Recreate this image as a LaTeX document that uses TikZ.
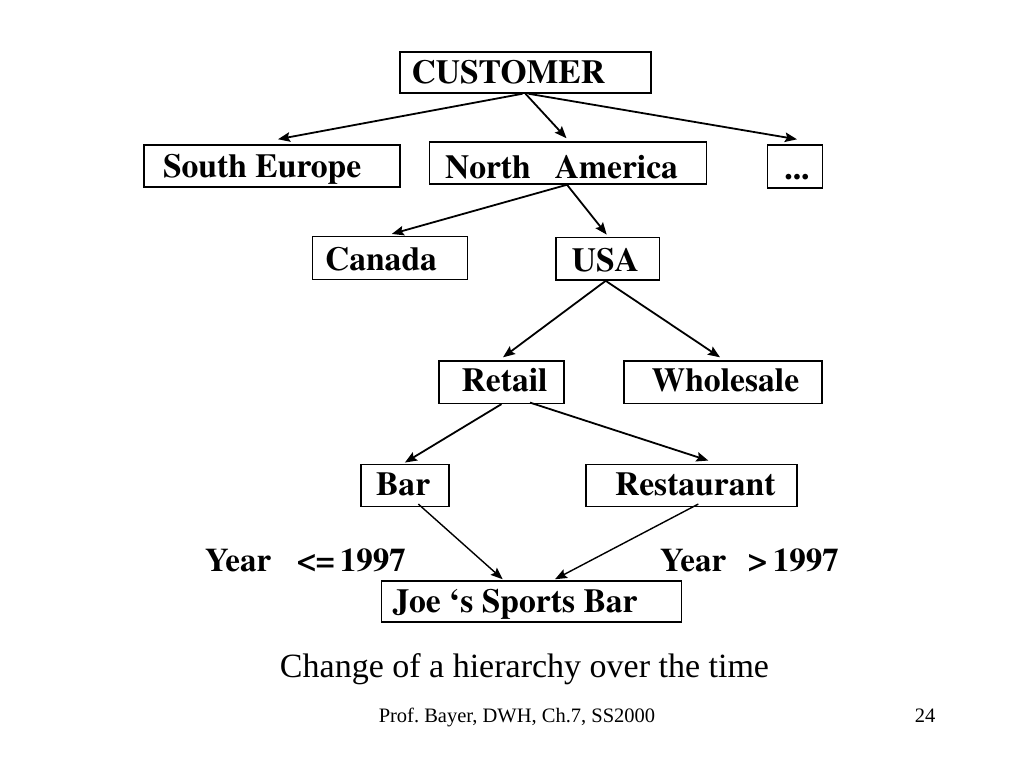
\documentclass[tikz,border=0pt]{standalone}
\usepackage[T1]{fontenc}
\usepackage{fontspec}
\setmainfont{Liberation Serif}
\newcommand\tbf{\fontencoding{T1}\fontfamily{ptm}\fontseries{b}\fontshape{n}\selectfont}
\frenchspacing
\usetikzlibrary{arrows.meta}
\begin{document}
\begin{tikzpicture}[x=1pt,y=-1pt,
  box/.style={draw, line width=1.5pt, inner sep=0pt, text height=22.5pt, text depth=0pt,
    font={\fontsize{33.6}{40}\tbf}},
  arr/.style={-{Stealth[length=12pt,width=9.5pt,inset=2pt]}, line width=1.8pt},
  lbl/.style={inner sep=0pt, anchor=base west, font={\fontsize{33}{40}\tbf}},
  txt/.style={inner sep=0pt, anchor=base}]
\fill[white] (0,0) rectangle (1024,768);
\useasboundingbox (0,0) rectangle (1024,768);

% boxes
\node[box, minimum height=41pt] (cust) at (525.5,72.5) {\makebox[251pt][l]{\hspace*{11.5pt}CUSTOMER}};
\node[box, minimum height=42pt] (se) at (272,166) {\makebox[256pt][l]{\hspace*{19pt}South Europe}};
\node[box, minimum height=42pt] (na) at (568,163) {\raisebox{-4pt}{\makebox[277pt][l]{\hspace*{15.5pt}North\hspace*{24pt}America}}};
\node[box, minimum height=42.7pt] (dots) at (795,166.4) {\raisebox{-1.5pt}{\makebox[55pt]{\hspace*{4pt}...}}};
\node[box, minimum height=42.6pt] (canada) at (389.8,258) {\raisebox{-1.5pt}{\makebox[155pt][l]{\hspace*{12.7pt}Canada}}};
\node[box, minimum height=42.7pt] (usa) at (607.7,258.7) {\raisebox{-1.3pt}{\makebox[103.3pt][l]{\hspace*{15.7pt}USA}}};
\node[box, minimum height=42.3pt] (retail) at (501.5,382.2) {\raisebox{1.5pt}{\makebox[125pt][l]{\hspace*{22.7pt}Retail}}};
\node[box, minimum height=42.3pt] (whole) at (723,382.2) {\raisebox{1.5pt}{\makebox[198pt][l]{\hspace*{27.7pt}Wholesale}}};
\node[box, minimum height=42.4pt] (bar) at (404.9,485.5) {\raisebox{1.5pt}{\makebox[88.3pt][l]{\hspace*{15.3pt}Bar}}};
\node[box, minimum height=42.4pt] (rest) at (691.5,485.5) {\raisebox{1.5pt}{\makebox[211pt][l]{\hspace*{29pt}Restaurant}}};
\node[box, minimum height=41pt] (joe) at (531.7,601.5) {\makebox[300pt][l]{\hspace*{11pt}Joe `s Sports Bar}};

% connectors
\draw[arr] ([xshift=-3pt]cust.south) -- ([xshift=6pt,yshift=5pt]se.north);
\draw[arr] (cust.south) -- ([xshift=-1.5pt,yshift=3pt]na.north);
\draw[arr] ([xshift=3pt]cust.south) -- ([xshift=2pt,yshift=5pt]dots.north);
\draw[arr] ([xshift=-1pt]na.south) -- ([xshift=2pt,yshift=2pt]canada.north);
\draw[arr] ([xshift=-1pt]na.south) -- ([xshift=-1pt,yshift=2pt]usa.north);
\draw[arr] ([xshift=-2pt]usa.south) -- ([xshift=1.5pt,yshift=3pt]retail.north);
\draw[arr] ([xshift=-2pt]usa.south) -- ([xshift=-3pt,yshift=3pt]whole.north);
\draw[arr] (retail.south) -- ([yshift=1pt]bar.north);
\draw[arr] ([xshift=28.5pt,yshift=1.5pt]retail.south) -- ([xshift=16.8pt,yshift=3pt]rest.north);
\draw[arr, line width=1.4pt] ([xshift=13.4pt,yshift=3.4pt]bar.south) -- ([xshift=-29pt,yshift=1pt]joe.north);
\draw[arr, line width=1.4pt] ([xshift=6.8pt,yshift=3.4pt]rest.south) -- ([xshift=23.3pt,yshift=1pt]joe.north);

% labels
\node[lbl] (yle) at (205,571) {Year\hspace*{26pt}<=\hspace*{5pt}1997};
\node[lbl] (ygt) at (660,571) {Year\hspace*{22pt}>\hspace*{6pt}1997};
\node[txt, font=\fontsize{34}{40}\selectfont] (cap) at (524.5,677) {Change of a hierarchy over the time};
\node[txt, font=\fontsize{20.5}{24}\selectfont] (foot) at (517,722) {Prof. Bayer, DWH, Ch.7, SS2000};
\node[txt, font=\fontsize{20.5}{24}\selectfont] (page) at (925,722) {24};
\end{tikzpicture}
\end{document}
